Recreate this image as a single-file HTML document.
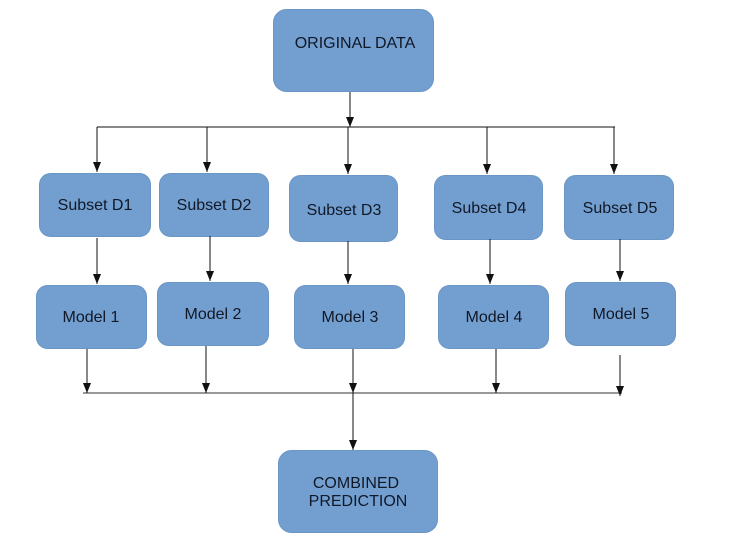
<!DOCTYPE html>
<html><head><meta charset="utf-8"><style>
html,body{margin:0;padding:0;background:#fff;}
svg{display:block;}
text{font-family:"Liberation Sans",sans-serif;font-size:16px;fill:#111827;text-anchor:middle;}
.b{fill:#729fcf;stroke:#6a96c6;stroke-width:1;}
.l{stroke:#111;stroke-width:1;fill:none;}
</style></head><body>
<svg width="733" height="544" viewBox="0 0 733 544">
<defs>
<marker id="d" viewBox="0 0 8 10" markerWidth="8" markerHeight="10" refX="4" refY="10" markerUnits="userSpaceOnUse"><path d="M0,0 L8,0 L4,10 Z" fill="#111"/></marker></defs>
<rect class="b" x="273.5" y="9.5" width="160" height="82" rx="13"/>
<text x="355" y="48">ORIGINAL DATA</text>
<line class="l" x1="350" y1="92" x2="350" y2="127" marker-end="url(#d)"/>
<line class="l" x1="97" y1="127" x2="615" y2="127"/>
<line class="l" x1="97" y1="127" x2="97" y2="172" marker-end="url(#d)"/>
<line class="l" x1="207" y1="127" x2="207" y2="172" marker-end="url(#d)"/>
<line class="l" x1="348" y1="127" x2="348" y2="174" marker-end="url(#d)"/>
<line class="l" x1="487" y1="127" x2="487" y2="174" marker-end="url(#d)"/>
<line class="l" x1="614" y1="127" x2="614" y2="174" marker-end="url(#d)"/>
<rect class="b" x="39.5" y="173.5" width="111" height="63" rx="11"/><text x="95" y="210">Subset D1</text>
<rect class="b" x="159.5" y="173.5" width="109" height="63" rx="11"/><text x="214" y="210">Subset D2</text>
<rect class="b" x="289.5" y="175.5" width="108" height="66" rx="11"/><text x="344" y="215">Subset D3</text>
<rect class="b" x="434.5" y="175.5" width="108" height="64" rx="11"/><text x="489" y="213">Subset D4</text>
<rect class="b" x="564.5" y="175.5" width="109" height="64" rx="11"/><text x="620" y="213">Subset D5</text>
<line class="l" x1="97" y1="238" x2="97" y2="284" marker-end="url(#d)"/>
<line class="l" x1="210" y1="236" x2="210" y2="281" marker-end="url(#d)"/>
<line class="l" x1="348" y1="241" x2="348" y2="284" marker-end="url(#d)"/>
<line class="l" x1="490" y1="239" x2="490" y2="284" marker-end="url(#d)"/>
<line class="l" x1="620" y1="239" x2="620" y2="281" marker-end="url(#d)"/>
<rect class="b" x="36.5" y="285.5" width="110" height="63" rx="11"/><text x="91" y="322">Model 1</text>
<rect class="b" x="157.5" y="282.5" width="111" height="63" rx="11"/><text x="213" y="319">Model 2</text>
<rect class="b" x="294.5" y="285.5" width="110" height="63" rx="11"/><text x="350" y="322">Model 3</text>
<rect class="b" x="438.5" y="285.5" width="110" height="63" rx="11"/><text x="494" y="322">Model 4</text>
<rect class="b" x="565.5" y="282.5" width="110" height="63" rx="11"/><text x="621" y="319">Model 5</text>
<line x1="83" y1="393" x2="622" y2="393" stroke="#999" stroke-width="2"/>
<line class="l" x1="87" y1="349" x2="87" y2="393" marker-end="url(#d)"/>
<line class="l" x1="206" y1="346" x2="206" y2="393" marker-end="url(#d)"/>
<line class="l" x1="353" y1="349" x2="353" y2="393" marker-end="url(#d)"/>
<line class="l" x1="496" y1="349" x2="496" y2="393" marker-end="url(#d)"/>
<line class="l" x1="620" y1="355" x2="620" y2="396" marker-end="url(#d)"/>
<line class="l" x1="353" y1="393" x2="353" y2="450" marker-end="url(#d)"/>
<rect class="b" x="278.5" y="450.5" width="159" height="82" rx="13"/>
<text x="356" y="488">COMBINED</text>
<text x="358" y="506">PREDICTION</text>
</svg>
</body></html>
